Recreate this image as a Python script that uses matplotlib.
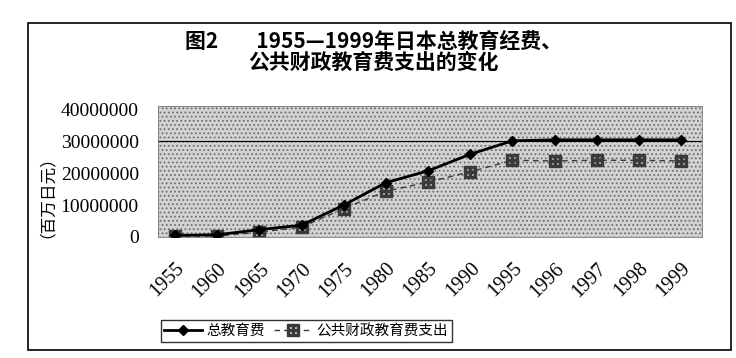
import matplotlib
matplotlib.use("Agg")
import matplotlib.pyplot as plt
import matplotlib.transforms as mtransforms
from matplotlib.patches import Rectangle

plt.rcParams['font.family'] = ['Noto Sans CJK SC', 'DejaVu Sans']
plt.rcParams['hatch.linewidth'] = 0.8

years = ['1955', '1960', '1965', '1970', '1975', '1980', '1985',
         '1990', '1995', '1996', '1997', '1998', '1999']
# 百万日元
total_edu = [500000, 700000, 2300000, 3700000, 10000000, 17000000, 20700000,
             25900000, 30100000, 30400000, 30400000, 30400000, 30400000]
public_edu = [300000, 300000, 1500000, 3100000, 8900000, 14300000, 17200000,
              20400000, 24000000, 23800000, 24000000, 24000000, 23800000]
yticks = [0, 10000000, 20000000, 30000000, 40000000]

fig = plt.figure(figsize=(7.36, 3.58), dpi=100)
ax = fig.add_axes([0.215, 0.338, 0.739, 0.366])

# stippled plot background
ax.set_facecolor('white')
ax.add_patch(Rectangle((0, 0), 1, 1, transform=ax.transAxes, facecolor='#d2d2d2',
                       edgecolor='#6e6e6e', hatch='....', lw=0, zorder=0))
ax.axhline(30000000, color='black', lw=0.8, zorder=1)

x = list(range(len(years)))
ax.plot(x, total_edu, color='black', lw=2, marker='D', ms=5,
        label='总教育费', zorder=3)
ax.plot(x, public_edu, color='#3a3a3a', lw=1, ls=(0, (4, 3)),
        marker='$\\boxplus$', ms=8, label='公共财政教育费支出', zorder=2)

ax.set_xlim(-0.4, len(years) - 0.5)
ax.set_ylim(0, 41000000)
ax.set_yticks(yticks)
ax.set_yticklabels([str(v) for v in yticks], family='Liberation Serif', fontsize=14)
ax.set_xticks(x)
ax.set_xticklabels(years, family='Liberation Serif', fontsize=14.5,
                   rotation=45, ha='right', rotation_mode='anchor')
shift = mtransforms.ScaledTranslation(-8 / 72, 0, fig.dpi_scale_trans)
for lab in ax.get_xticklabels():
    lab.set_transform(lab.get_transform() + shift)
ax.tick_params(axis='both', length=0)
ax.tick_params(axis='x', pad=16)
ax.tick_params(axis='y', pad=14)
for s in ax.spines.values():
    s.set_color('#777777')
    s.set_linewidth(0.6)

fig.text(0.052, 0.475, '（百万日元）', rotation=90, ha='center', va='center',
         fontsize=12)

fig.text(0.508, 0.885, '图2        1955—1999年日本总教育经费、', ha='center',
         va='center', fontsize=15, fontweight='bold')
fig.text(0.508, 0.825, '公共财政教育费支出的变化', ha='center', va='center',
         fontsize=15, fontweight='bold')

leg = fig.legend(loc='center', bbox_to_anchor=(0.416, 0.075), ncol=2,
                 fontsize=10.5, frameon=True, fancybox=False, edgecolor='black',
                 handlelength=2.6, handletextpad=0.3, columnspacing=0.6,
                 borderpad=0.25)
leg.get_frame().set_linewidth(1)

fig.patches.append(Rectangle((0.038, 0.022), 0.955, 0.913, transform=fig.transFigure,
                             fill=False, edgecolor='black', lw=1.2))

plt.savefig('out.png', dpi=100)
